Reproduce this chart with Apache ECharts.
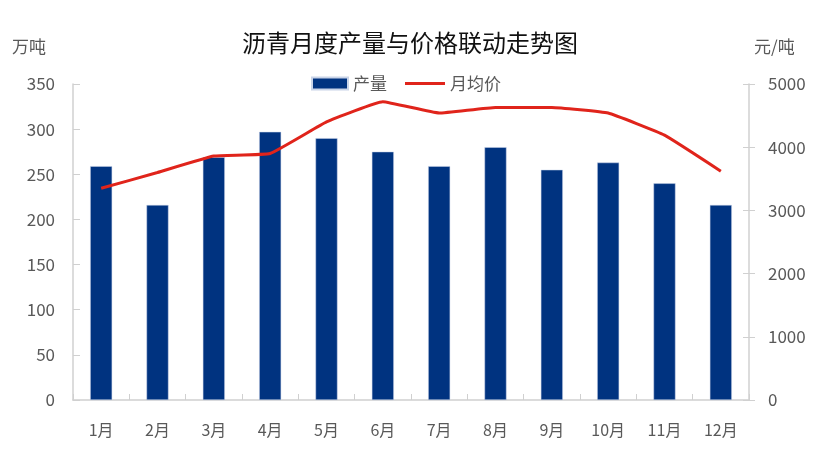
<!DOCTYPE html>
<html>
<head>
<meta charset="utf-8">
<script src="https://cdn.jsdelivr.net/npm/echarts@6/dist/echarts.min.js"></script>
<style>html,body{margin:0;padding:0;background:#fff}#c{width:816px;height:461px}</style>
</head>
<body>
<div id="c"></div>
<script>
const months = ['1月','2月','3月','4月','5月','6月','7月','8月','9月','10月','11月','12月'];
const output = [259, 216, 269, 297, 290, 275, 259, 280, 255, 263, 240, 216];
const price = [3350, 3600, 3860, 3900, 4400, 4720, 4540, 4630, 4630, 4540, 4190, 3620];
const leftTicks = [0, 350, 50];
const rightTicks = [0, 5000, 1000];

const FONT = '"Noto Sans CJK SC", "Noto Sans", sans-serif';
const GRAY = '#595959';
const AXIS = '#d0d0d0';
const chart = echarts.init(document.getElementById('c'));
chart.setOption({
  animation: false,
  textStyle: { fontFamily: FONT },
  title: {
    text: '沥青月度产量与价格联动走势图',
    left: 405, top: 26, textAlign: 'center',
    textStyle: { fontFamily: FONT, fontSize: 24, fontWeight: 'normal', color: '#111' }
  },
  graphic: [
    { type: 'text', left: 12, top: 38, style: { text: '万吨', font: '17px ' + FONT, fill: GRAY } },
    { type: 'text', left: 754, top: 38, style: { text: '元/吨', font: '17px ' + FONT, fill: GRAY } }
  ],
  legend: [
    {
      left: 306, top: 70,
      itemWidth: 36, itemHeight: 12, itemGap: 6,
      textStyle: { fontFamily: FONT, fontSize: 17, color: GRAY },
      data: [{ name: '产量', icon: 'rect' }]
    },
    {
      left: 400, top: 70,
      itemWidth: 40, itemHeight: 3, itemGap: 6,
      textStyle: { fontFamily: FONT, fontSize: 17, color: GRAY },
      data: [{ name: '月均价', icon: 'rect' }]
    }
  ],
  grid: { left: 73, right: 67, top: 84, bottom: 61 },
  xAxis: {
    type: 'category', data: months,
    axisLine: { lineStyle: { color: AXIS, width: 1.5 } },
    axisTick: { show: true, inside: true, length: 6, lineStyle: { color: AXIS } },
    axisLabel: { color: GRAY, fontSize: 16, margin: 22, fontFamily: FONT }
  },
  yAxis: [
    {
      type: 'value', min: leftTicks[0], max: leftTicks[1], interval: leftTicks[2], position: 'left',
      splitLine: { show: false },
      axisLine: { show: true, lineStyle: { color: AXIS, width: 1.5 } },
      axisTick: { show: true, inside: true, length: 7, lineStyle: { color: AXIS } },
      axisLabel: { color: GRAY, fontSize: 17, margin: 18, fontFamily: FONT }
    },
    {
      type: 'value', min: rightTicks[0], max: rightTicks[1], interval: rightTicks[2], position: 'right',
      splitLine: { show: false },
      axisLine: { show: true, lineStyle: { color: AXIS, width: 1.5 } },
      axisTick: { show: true, inside: false, length: 6, lineStyle: { color: AXIS } },
      axisLabel: { color: GRAY, fontSize: 17, margin: 19, fontFamily: FONT, formatter: v => String(v) }
    },
    {
      type: 'value', min: rightTicks[0], max: rightTicks[1], interval: rightTicks[2], position: 'right',
      splitLine: { show: false },
      axisLine: { show: false },
      axisTick: { show: true, inside: true, length: 6, lineStyle: { color: AXIS } },
      axisLabel: { show: false }
    }
  ],
  series: [
    {
      name: '产量', type: 'bar', data: output, yAxisIndex: 0, barWidth: 22,
      itemStyle: { color: '#003380', borderColor: '#c9d4e8', borderWidth: 0.5 }
    },
    {
      name: '月均价', type: 'line', data: price, yAxisIndex: 1,
      symbol: 'none', smooth: 0.1,
      lineStyle: { color: '#e0241b', width: 3 },
      itemStyle: { color: '#e0241b' }
    }
  ]
});
</script>
</body>
</html>
